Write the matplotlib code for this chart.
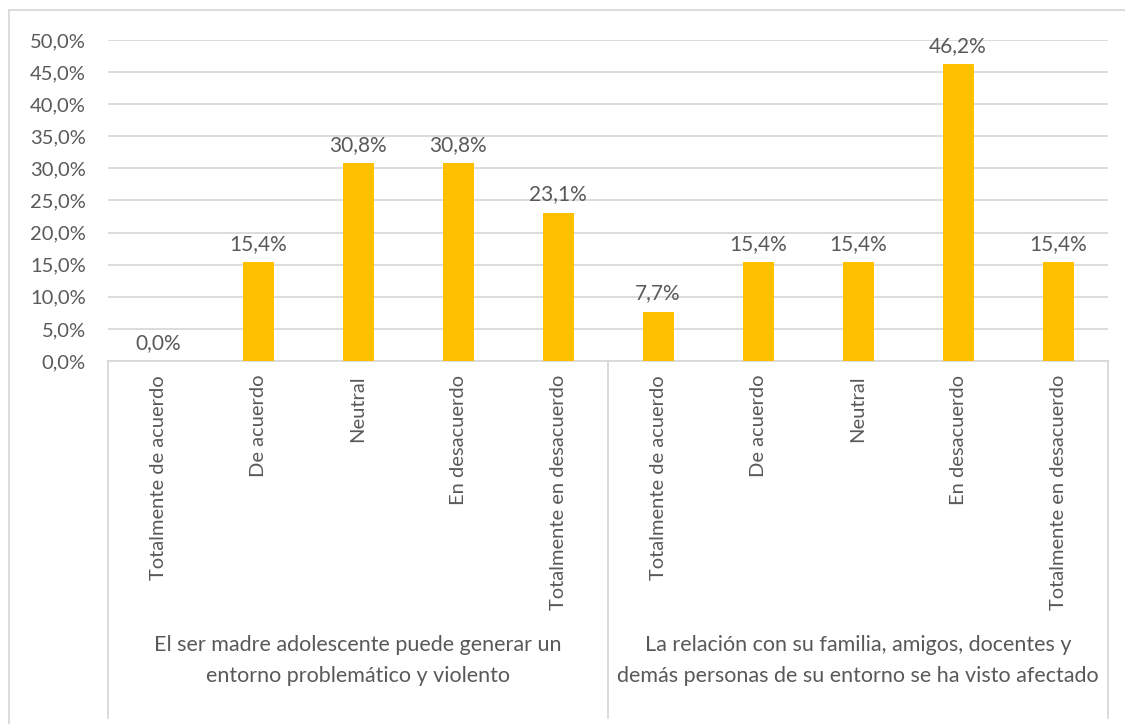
import matplotlib.pyplot as plt
import numpy as np

plt.rcParams['font.family'] = ['Lato', 'DejaVu Sans']

# datos
categorias = ["Totalmente de acuerdo", "De acuerdo", "Neutral",
              "En desacuerdo", "Totalmente en desacuerdo"]
grupos = [
    ["El ser madre adolescente puede generar un",
     "entorno problemático y violento"],
    ["La relación con su familia, amigos, docentes y",
     "demás personas de su entorno se ha visto afectado"],
]
valores_g1 = [0.0, 15.4, 30.8, 30.8, 23.1]
valores_g2 = [7.7, 15.4, 15.4, 46.2, 15.4]

valores = valores_g1 + valores_g2
etiquetas = categorias + categorias
gris_txt = '#595959'
gris_lin = '#D9D9D9'
fs = 14.5

fig = plt.figure(figsize=(11.25, 7.24), dpi=100)
ax = fig.add_axes([108 / 1125, 1 - 361 / 724, 1000 / 1125, 321 / 724])

x = np.arange(len(valores))
ax.bar(x, valores, width=0.31, color='#FFC000', zorder=3)

for xi, v in zip(x, valores):
    ax.annotate(f"{v:.1f}%".replace('.', ','), (xi, v), xytext=(0, 6),
                textcoords='offset points', ha='center', va='bottom',
                fontsize=15, color=gris_txt, clip_on=False)

ax.set_xlim(-0.5, len(valores) - 0.5)
ax.set_ylim(0, 50)
ax.set_yticks(np.arange(0, 51, 5))
ax.set_yticklabels([f"{t:.1f}%".replace('.', ',') for t in np.arange(0, 51, 5)])
ax.set_xticks(x)
ax.set_xticklabels(etiquetas, rotation=90)
ax.tick_params(axis='both', length=0, labelsize=fs, labelcolor=gris_txt)
ax.tick_params(axis='x', pad=10)
ax.tick_params(axis='y', pad=16)
ax.grid(axis='y', color=gris_lin, linewidth=1.3, zorder=0)

for s in ['top', 'right', 'left']:
    ax.spines[s].set_visible(False)
ax.spines['bottom'].set_color(gris_lin)
ax.spines['bottom'].set_linewidth(1.3)

# separadores de grupos
tr = ax.get_xaxis_transform()
for xs in [-0.5, 4.5, 9.5]:
    ax.plot([xs, xs], [0, -1.112], transform=tr, color=gris_lin,
            linewidth=1.3, clip_on=False)

# etiquetas de grupo
for i, lineas in enumerate(grupos):
    cx = i * 5 + 2
    ax.text(cx, (361 - 645) / 321, lineas[0], transform=tr, ha='center',
            va='center', fontsize=15.5, color=gris_txt)
    ax.text(cx, (361 - 676) / 321, lineas[1], transform=tr, ha='center',
            va='center', fontsize=15.5, color=gris_txt)

# borde del gráfico
fig.add_artist(plt.Line2D([9 / 1125, 9 / 1125], [0, 1 - 10 / 724],
                          transform=fig.transFigure, color=gris_lin, linewidth=1.3))
fig.add_artist(plt.Line2D([9 / 1125, 1], [1 - 10 / 724, 1 - 10 / 724],
                          transform=fig.transFigure, color=gris_lin, linewidth=1.3))

fig.savefig('out.png', dpi=100)
